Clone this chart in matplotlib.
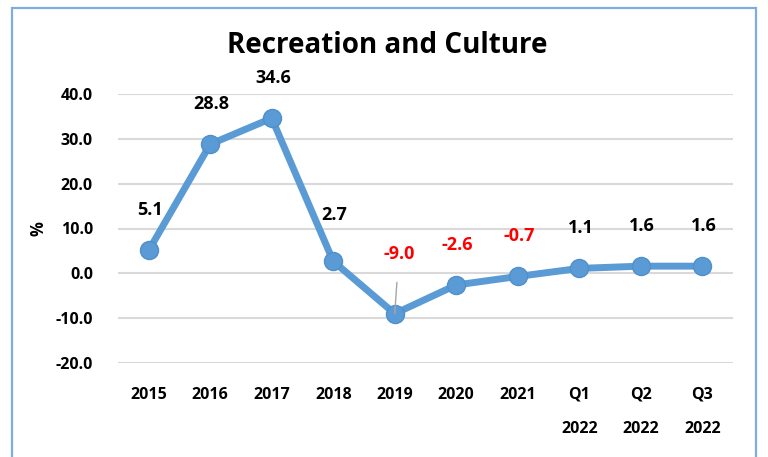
import matplotlib.pyplot as plt
from matplotlib.patches import Rectangle

categories = ['2015', '2016', '2017', '2018', '2019', '2020', '2021',
              'Q1\n2022', 'Q2\n2022', 'Q3\n2022']
values = [5.1, 28.8, 34.6, 2.7, -9.0, -2.6, -0.7, 1.1, 1.6, 1.6]
yticks = [-20, -10, 0, 10, 20, 30, 40]

plt.rcParams['font.family'] = ['Open Sans', 'DejaVu Sans']

fig = plt.figure(figsize=(7.68, 4.57), dpi=100)
ax = fig.add_axes([0.1536, 0.2057, 0.8008, 0.5886])

x = list(range(len(categories)))
ax.plot(x, values, color='#5B9BD5', lw=5, marker='o', ms=13,
        markerfacecolor='#5B9BD5', markeredgecolor='#4F8FCB', mew=1,
        solid_capstyle='round', zorder=3)

for i, v in enumerate(values):
    col = 'red' if v < 0 else 'black'
    if v == -9.0:
        ax.annotate(f'{v:.1f}', (i, v), xytext=(3, 43), textcoords='offset points',
                    ha='center', va='center', fontsize=13, fontweight='bold', color=col,
                    arrowprops=dict(arrowstyle='-', color='#A6A6A6', lw=1,
                                    shrinkA=12, shrinkB=0))
    else:
        dy = 33 if v == 2.7 else 29
        ax.annotate(f'{v:.1f}', (i, v), xytext=(1, dy), textcoords='offset points',
                    ha='center', va='center', fontsize=13, fontweight='bold', color=col)

ax.set_xlim(-0.5, len(categories) - 0.5)
ax.set_ylim(-20, 40)
ax.set_yticks(yticks)
ax.set_yticklabels([f'{t:.1f}' for t in yticks], fontsize=11.5, fontweight='bold')
ax.set_xticks(x)
ax.set_xticklabels(categories, fontsize=11.5, fontweight='bold', linespacing=2.5, va='top')
ax.tick_params(length=0, pad=18)
ax.tick_params(axis='x', pad=17)
ax.grid(axis='y', color='#D9D9D9', lw=1.5)
ax.set_axisbelow(True)
for s in ax.spines.values():
    s.set_visible(False)

ax.set_ylabel('%', fontsize=12, fontweight='bold')
ax.yaxis.set_label_coords(-0.115, 0.5)

fig.text(0.504, 0.90, 'Recreation and Culture', ha='center', va='center',
         fontsize=20, fontweight='bold')

fig.patches.append(Rectangle((12 / 768, -0.02), 744 / 768, 1 - 8 / 457 + 0.02,
                             transform=fig.transFigure, fill=False,
                             edgecolor='#7FAEDD', lw=1.6))

fig.savefig('out.png', dpi=100)
